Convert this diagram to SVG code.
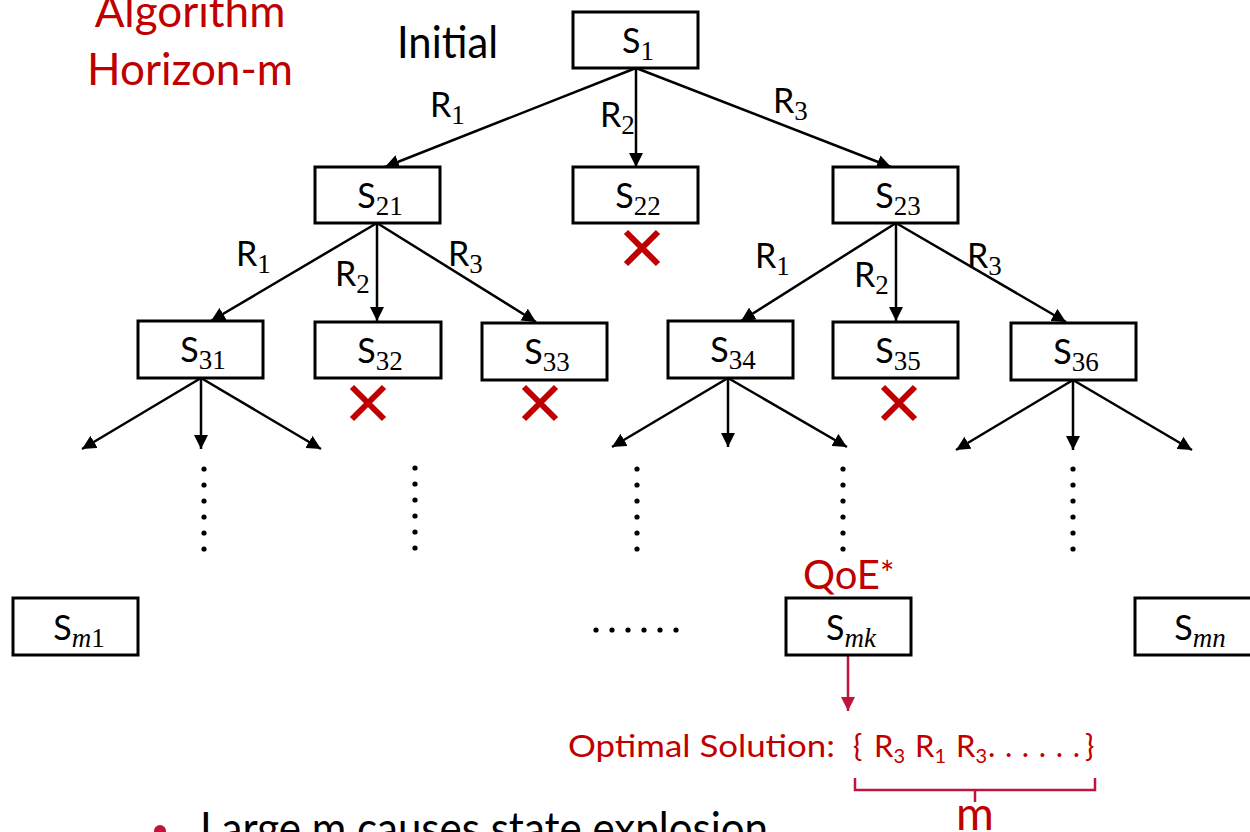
<svg xmlns="http://www.w3.org/2000/svg" width="1250" height="832" viewBox="0 0 1250 832">
  <style>
    .box { fill: #fff; stroke: #000; stroke-width: 3; }
    .st { font-family: Lato, "Liberation Sans", sans-serif; font-size: 34px; fill: #000; }
    .sub { font-family: "Liberation Serif", "DejaVu Serif", serif; font-size: 27px; }
    .it { font-style: italic; }
    .lbl { font-family: Lato, "Liberation Sans", sans-serif; font-size: 34px; fill: #000; }
    .edge { stroke: #000; stroke-width: 2.5; fill: none; marker-end: url(#arr); }
    .cross { stroke: #c00000; stroke-width: 6; fill: none; }
    .dot { fill: #000; }
    .red { font-family: Lato, "Liberation Sans", sans-serif; fill: #c00000; }
    .hl { stroke: #c0143c; fill: none; stroke-width: 2.5; }
  </style>
  <defs>
    <marker id="arr" viewBox="0 0 14 14" refX="14" refY="7" markerWidth="14" markerHeight="14" markerUnits="userSpaceOnUse" orient="auto">
      <path d="M0,0 L14,7 L0,14 z" fill="#000"/>
    </marker>
    <marker id="arrRed" viewBox="0 0 14 14" refX="14" refY="7" markerWidth="14" markerHeight="14" markerUnits="userSpaceOnUse" orient="auto">
      <path d="M0,0 L14,7 L0,14 z" fill="#c0143c"/>
    </marker>
    <circle id="d" r="2.6"/>
  </defs>

  <!-- heading -->
  <g id="title">
    <text class="red" x="190" y="27" font-size="44" text-anchor="middle">Algorithm</text>
    <text class="red" x="190" y="85" font-size="44" text-anchor="middle">Horizon-m</text>
  </g>
  <text id="initial" x="397" y="58" font-family="Lato, 'Liberation Sans', sans-serif" font-size="44" fill="#000" textLength="101" lengthAdjust="spacingAndGlyphs">Initial</text>

  <!-- connectors -->
  <g id="connectors">
    <line class="edge" x1="636" y1="68" x2="385" y2="167"/>
    <line class="edge" x1="636" y1="68" x2="636" y2="167"/>
    <line class="edge" x1="636" y1="68" x2="891" y2="167"/>

    <line class="edge" x1="377" y1="223" x2="211" y2="321"/>
    <line class="edge" x1="377" y1="223" x2="377" y2="321"/>
    <line class="edge" x1="377" y1="223" x2="536" y2="322"/>

    <line class="edge" x1="896" y1="223" x2="741" y2="321"/>
    <line class="edge" x1="896" y1="223" x2="896" y2="321"/>
    <line class="edge" x1="896" y1="223" x2="1066" y2="322"/>

    <line class="edge" x1="201" y1="378" x2="82" y2="449"/>
    <line class="edge" x1="201" y1="378" x2="201" y2="449"/>
    <line class="edge" x1="201" y1="378" x2="321" y2="449"/>

    <line class="edge" x1="728" y1="378" x2="612" y2="447"/>
    <line class="edge" x1="728" y1="378" x2="728" y2="447"/>
    <line class="edge" x1="728" y1="378" x2="847" y2="447"/>

    <line class="edge" x1="1073" y1="380" x2="956" y2="450"/>
    <line class="edge" x1="1073" y1="380" x2="1073" y2="450"/>
    <line class="edge" x1="1073" y1="380" x2="1192" y2="450"/>

    <line x1="848" y1="655" x2="848" y2="711" stroke="#c0143c" stroke-width="2.5" marker-end="url(#arrRed)"/>
  </g>

  <!-- edge labels -->
  <g id="labels">
    <text class="lbl" x="430" y="117">R<tspan class="sub" dy="7">1</tspan></text>
    <text class="lbl" x="600" y="127">R<tspan class="sub" dy="7">2</tspan></text>
    <text class="lbl" x="773" y="113">R<tspan class="sub" dy="7">3</tspan></text>

    <text class="lbl" x="236" y="266">R<tspan class="sub" dy="7">1</tspan></text>
    <text class="lbl" x="335" y="286">R<tspan class="sub" dy="7">2</tspan></text>
    <text class="lbl" x="448" y="266">R<tspan class="sub" dy="7">3</tspan></text>

    <text class="lbl" x="755" y="268">R<tspan class="sub" dy="7">1</tspan></text>
    <text class="lbl" x="854" y="287">R<tspan class="sub" dy="7">2</tspan></text>
    <text class="lbl" x="967" y="268">R<tspan class="sub" dy="7">3</tspan></text>
  </g>

  <!-- states -->
  <g id="s1"><rect class="box" x="573" y="12" width="125" height="56"/><text class="st" x="638" y="53" text-anchor="middle">S<tspan class="sub" dy="7">1</tspan></text></g>
  <g id="s21"><rect class="box" x="315" y="167" width="125" height="56"/><text class="st" x="380" y="208" text-anchor="middle">S<tspan class="sub" dy="7">21</tspan></text></g>
  <g id="s22"><rect class="box" x="573" y="167" width="125" height="56"/><text class="st" x="638" y="208" text-anchor="middle">S<tspan class="sub" dy="7">22</tspan></text></g>
  <g id="s23"><rect class="box" x="833" y="167" width="125" height="56"/><text class="st" x="898" y="208" text-anchor="middle">S<tspan class="sub" dy="7">23</tspan></text></g>

  <g id="s31"><rect class="box" x="138" y="321" width="125" height="57"/><text class="st" x="203" y="362" text-anchor="middle">S<tspan class="sub" dy="7">31</tspan></text></g>
  <g id="s32"><rect class="box" x="315" y="322" width="126" height="56"/><text class="st" x="380" y="363" text-anchor="middle">S<tspan class="sub" dy="7">32</tspan></text></g>
  <g id="s33"><rect class="box" x="482" y="323" width="125" height="57"/><text class="st" x="547" y="364" text-anchor="middle">S<tspan class="sub" dy="7">33</tspan></text></g>
  <g id="s34"><rect class="box" x="668" y="321" width="125" height="57"/><text class="st" x="733" y="362" text-anchor="middle">S<tspan class="sub" dy="7">34</tspan></text></g>
  <g id="s35"><rect class="box" x="833" y="322" width="125" height="56"/><text class="st" x="898" y="363" text-anchor="middle">S<tspan class="sub" dy="7">35</tspan></text></g>
  <g id="s36"><rect class="box" x="1011" y="323" width="125" height="57"/><text class="st" x="1076" y="364" text-anchor="middle">S<tspan class="sub" dy="7">36</tspan></text></g>

  <g id="sm1"><rect class="box" x="13" y="598" width="125" height="57"/><text class="st" x="79" y="640" text-anchor="middle">S<tspan class="sub" dy="7"><tspan class="it">m</tspan>1</tspan></text></g>
  <g id="smk"><rect class="box" x="786" y="598" width="125" height="57"/><text class="st" x="851" y="640" text-anchor="middle">S<tspan class="sub it" dy="7">mk</tspan></text></g>
  <g id="smn"><rect class="box" x="1135" y="598" width="125" height="57"/><text class="st" x="1200" y="640" text-anchor="middle">S<tspan class="sub it" dy="7">mn</tspan></text></g>

  <!-- pruned states -->
  <g id="pruned">
    <path class="cross" d="M626,232 L658,264 M658,232 L626,264"/>
    <path class="cross" d="M352,387 L384,419 M384,387 L352,419"/>
    <path class="cross" d="M524,387 L556,419 M556,387 L524,419"/>
    <path class="cross" d="M883,387 L915,419 M915,387 L883,419"/>
  </g>

  <!-- continuation dots -->
  <g id="dots" class="dot">
    <g transform="translate(204,0)"><use href="#d" y="469"/><use href="#d" y="485"/><use href="#d" y="501"/><use href="#d" y="517"/><use href="#d" y="533"/><use href="#d" y="549"/></g>
    <g transform="translate(415,0)"><use href="#d" y="468"/><use href="#d" y="484"/><use href="#d" y="500"/><use href="#d" y="516"/><use href="#d" y="532"/><use href="#d" y="548"/></g>
    <g transform="translate(637,0)"><use href="#d" y="469"/><use href="#d" y="485"/><use href="#d" y="501"/><use href="#d" y="517"/><use href="#d" y="533"/><use href="#d" y="549"/></g>
    <g transform="translate(843,0)"><use href="#d" y="469"/><use href="#d" y="485"/><use href="#d" y="501"/><use href="#d" y="517"/><use href="#d" y="533"/><use href="#d" y="549"/></g>
    <g transform="translate(1073,0)"><use href="#d" y="469"/><use href="#d" y="485"/><use href="#d" y="501"/><use href="#d" y="517"/><use href="#d" y="533"/><use href="#d" y="549"/></g>
    <g transform="translate(0,630)"><use href="#d" x="596"/><use href="#d" x="612"/><use href="#d" x="628"/><use href="#d" x="644"/><use href="#d" x="660"/><use href="#d" x="676"/></g>
  </g>

  <!-- best leaf and its path -->
  <g id="qoe">
    <text class="red" x="803" y="589" font-size="40" textLength="77" lengthAdjust="spacingAndGlyphs">QoE</text>
    <text class="red" x="880" y="586" font-size="34">*</text>
  </g>
  <g id="solution">
    <text class="red" x="568" y="757" font-size="31" textLength="267" lengthAdjust="spacingAndGlyphs">Optimal Solution:</text>
    <text class="red" x="853" y="757" font-size="31">{</text>
    <text class="red" x="874" y="757" font-size="31">R<tspan font-size="20" dy="6">3</tspan></text>
    <text class="red" x="915" y="757" font-size="31">R<tspan font-size="20" dy="6">1</tspan></text>
    <text class="red" x="956" y="757" font-size="31">R<tspan font-size="20" dy="6">3</tspan></text>
    <text class="red" x="988" y="757" font-size="31" textLength="92" lengthAdjust="spacing">......</text>
    <text class="red" x="1085" y="757" font-size="31">}</text>
    <path class="hl" d="M855,778 V790 H1095 V778 M975,790 V802"/>
    <text class="red" x="975" y="830" font-size="46" text-anchor="middle">m</text>
  </g>

  <!-- bullet -->
  <g id="note">
    <circle cx="160" cy="831" r="6" fill="#c0143c"/>
    <text x="200" y="844" font-family="Lato, 'Liberation Sans', sans-serif" font-size="44" fill="#000" textLength="568" lengthAdjust="spacingAndGlyphs">Large m causes state explosion</text>
  </g>
</svg>
